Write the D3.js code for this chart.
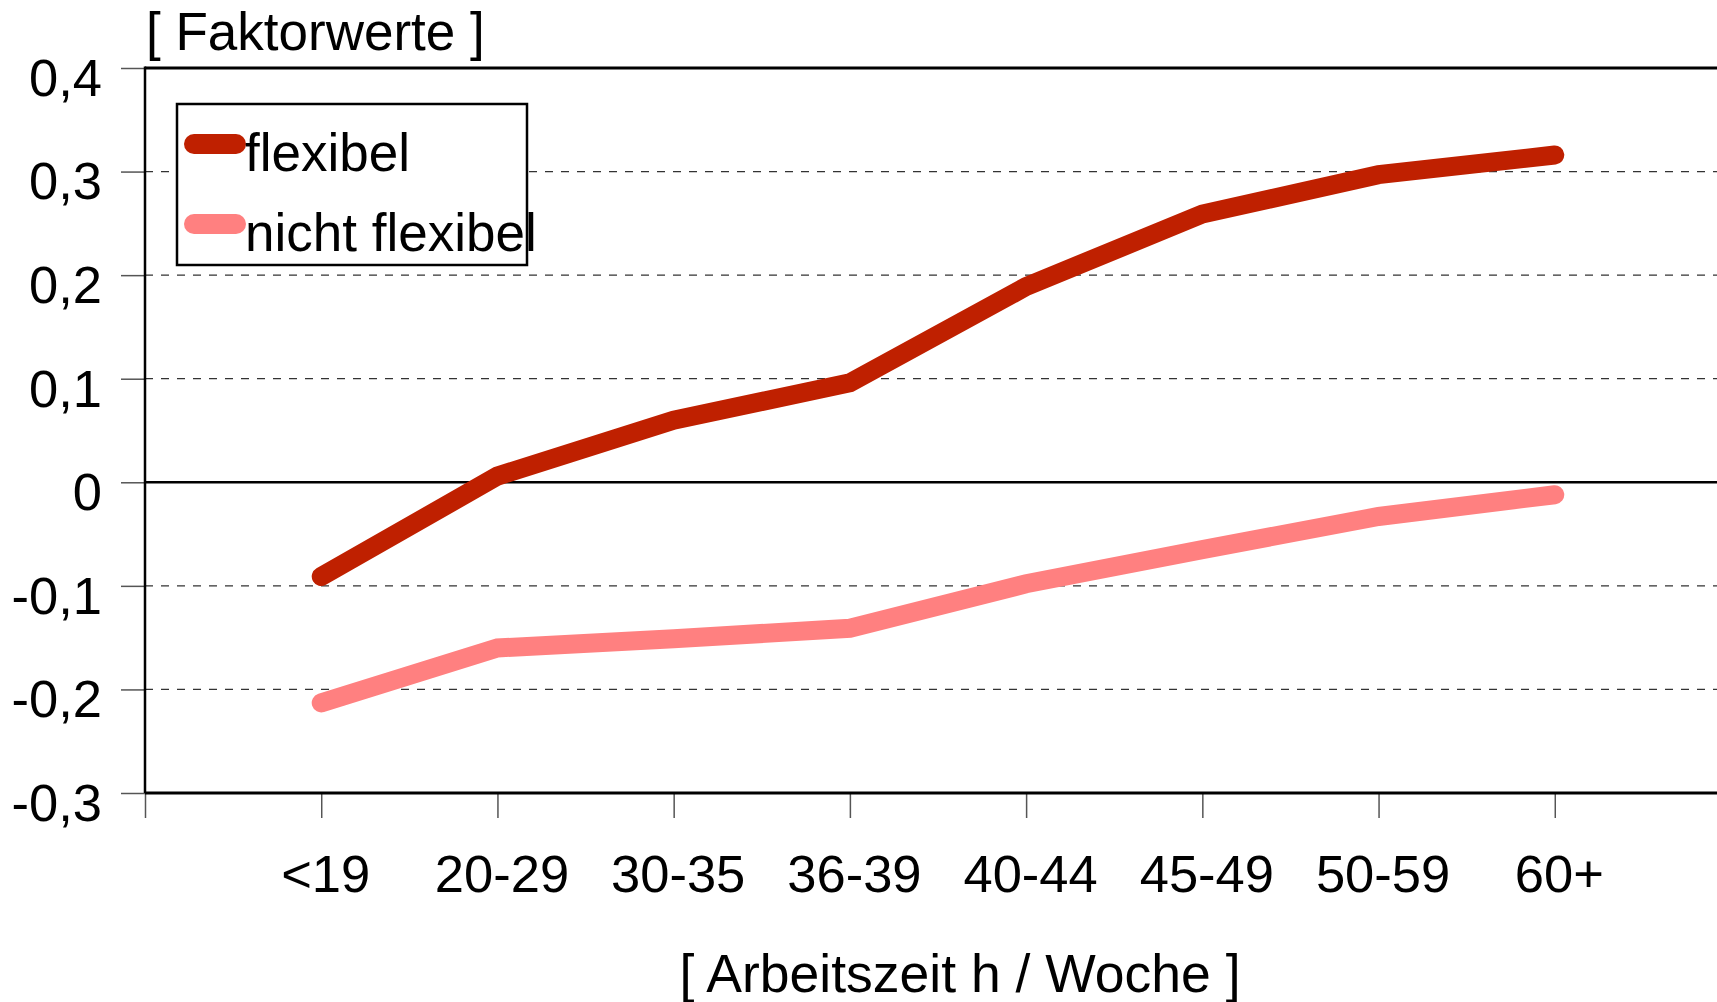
<!DOCTYPE html>
<html>
<head>
<meta charset="utf-8">
<script src="https://cdn.jsdelivr.net/npm/d3@7"></script>
<style>
  body { margin: 0; background: #fff; }
  svg text { font-family: "Liberation Sans", Arial, sans-serif; fill: #000; }
</style>
</head>
<body>
<svg></svg>
<script>
// categories (x axis)
const categories = ["<19", "20-29", "30-35", "36-39", "40-44", "45-49", "50-59", "60+"];
// series values (Faktorwerte)
const flexibel = [-0.091, 0.006, 0.060, 0.096, 0.189, 0.259, 0.297, 0.316];
const nichtFlexibel = [-0.213, -0.160, -0.151, -0.141, -0.098, -0.065, -0.033, -0.012];
// y ticks
const yTickValues = [-0.3, -0.2, -0.1, 0, 0.1, 0.2, 0.3, 0.4];
const yTickLabels = ["-0,3", "-0,2", "-0,1", "0", "0,1", "0,2", "0,3", "0,4"];

const width = 1717;
const height = 1002;
const plotLeft = 145;
const plotTop = 68;
const plotBottom = 793;

const svg = d3.select("svg").attr("width", width).attr("height", height);

const x = d3
  .scaleLinear()
  .domain([0, categories.length + 1])
  .range([plotLeft, 1731]);

const y = d3.scaleLinear().domain([-0.3, 0.4]).range([plotBottom, plotTop]);

// dashed gridlines
svg
  .append("g")
  .selectAll("line")
  .data(yTickValues.filter((d) => d !== 0.4 && d !== 0 && d !== -0.3))
  .enter()
  .append("line")
  .attr("x1", plotLeft)
  .attr("x2", width)
  .attr("y1", (d) => y(d))
  .attr("y2", (d) => y(d))
  .attr("stroke", "#333")
  .attr("stroke-width", 1.2)
  .attr("stroke-dasharray", "8,8");

// y axis
const yAxis = svg
  .append("g")
  .attr("transform", "translate(" + plotLeft + ",0)")
  .call(
    d3
      .axisLeft(y)
      .tickValues(yTickValues)
      .tickSize(24)
      .tickPadding(19)
      .tickFormat((d, i) => yTickLabels[i])
  );
yAxis.select(".domain").remove();
yAxis.selectAll(".tick line").attr("stroke", "#555").attr("stroke-width", 1.5);
yAxis
  .selectAll(".tick text")
  .attr("dy", "0.52em")
  .style("font-size", "52.5px");

// x axis
const xAxis = svg
  .append("g")
  .attr("transform", "translate(0," + plotBottom + ")")
  .call(
    d3
      .axisBottom(x)
      .tickValues(d3.range(0, categories.length + 1))
      .tickSize(25)
      .tickPadding(37)
      .tickFormat((d) => (d === 0 ? "" : categories[d - 1]))
  );
xAxis.select(".domain").remove();
xAxis.selectAll(".tick line").attr("stroke", "#555").attr("stroke-width", 1.5);
xAxis
  .selectAll(".tick text")
  .attr("dx", 4)
  .style("font-size", "52.5px");

// frame: top border, left axis, bottom axis, zero line
svg
  .append("line")
  .attr("x1", plotLeft)
  .attr("x2", width)
  .attr("y1", y(0.4))
  .attr("y2", y(0.4))
  .attr("stroke", "#000")
  .attr("stroke-width", 3);
svg
  .append("line")
  .attr("x1", plotLeft)
  .attr("x2", plotLeft)
  .attr("y1", y(0.4) - 1.5)
  .attr("y2", y(-0.3))
  .attr("stroke", "#000")
  .attr("stroke-width", 2.5);
svg
  .append("line")
  .attr("x1", plotLeft)
  .attr("x2", width)
  .attr("y1", y(-0.3))
  .attr("y2", y(-0.3))
  .attr("stroke", "#000")
  .attr("stroke-width", 3);
svg
  .append("line")
  .attr("x1", plotLeft)
  .attr("x2", width)
  .attr("y1", y(0))
  .attr("y2", y(0))
  .attr("stroke", "#000")
  .attr("stroke-width", 2.5);

// lines
const line = d3
  .line()
  .x((d, i) => x(i + 1))
  .y((d) => y(d));

const series = [
  { name: "flexibel", values: flexibel, color: "#BF2000" },
  { name: "nicht flexibel", values: nichtFlexibel, color: "#FF8080" },
];

svg
  .append("g")
  .selectAll("path")
  .data(series.slice().reverse())
  .enter()
  .append("path")
  .attr("d", (d) => line(d.values))
  .attr("fill", "none")
  .attr("stroke", (d) => d.color)
  .attr("stroke-width", 19)
  .attr("stroke-linecap", "round");

// legend
svg
  .append("rect")
  .attr("x", 177)
  .attr("y", 104)
  .attr("width", 350)
  .attr("height", 161)
  .attr("fill", "#fff")
  .attr("stroke", "#000")
  .attr("stroke-width", 2.5);

const legend = svg
  .append("g")
  .selectAll("g")
  .data(series)
  .enter()
  .append("g")
  .attr("transform", (d, i) => "translate(0," + (144 + i * 80) + ")");
legend
  .append("line")
  .attr("x1", 194)
  .attr("x2", 236)
  .attr("stroke", (d) => d.color)
  .attr("stroke-width", 20)
  .attr("stroke-linecap", "round");
legend
  .append("text")
  .attr("x", 245)
  .attr("y", 27)
  .style("font-size", "53px")
  .text((d) => d.name);

// axis titles
svg
  .append("text")
  .attr("x", 146)
  .attr("y", 50)
  .style("font-size", "53px")
  .text("[ Faktorwerte ]");

svg
  .append("text")
  .attr("x", 960)
  .attr("y", 992)
  .attr("text-anchor", "middle")
  .style("font-size", "53.5px")
  .text("[ Arbeitszeit h / Woche ]");
</script>
</body>
</html>
